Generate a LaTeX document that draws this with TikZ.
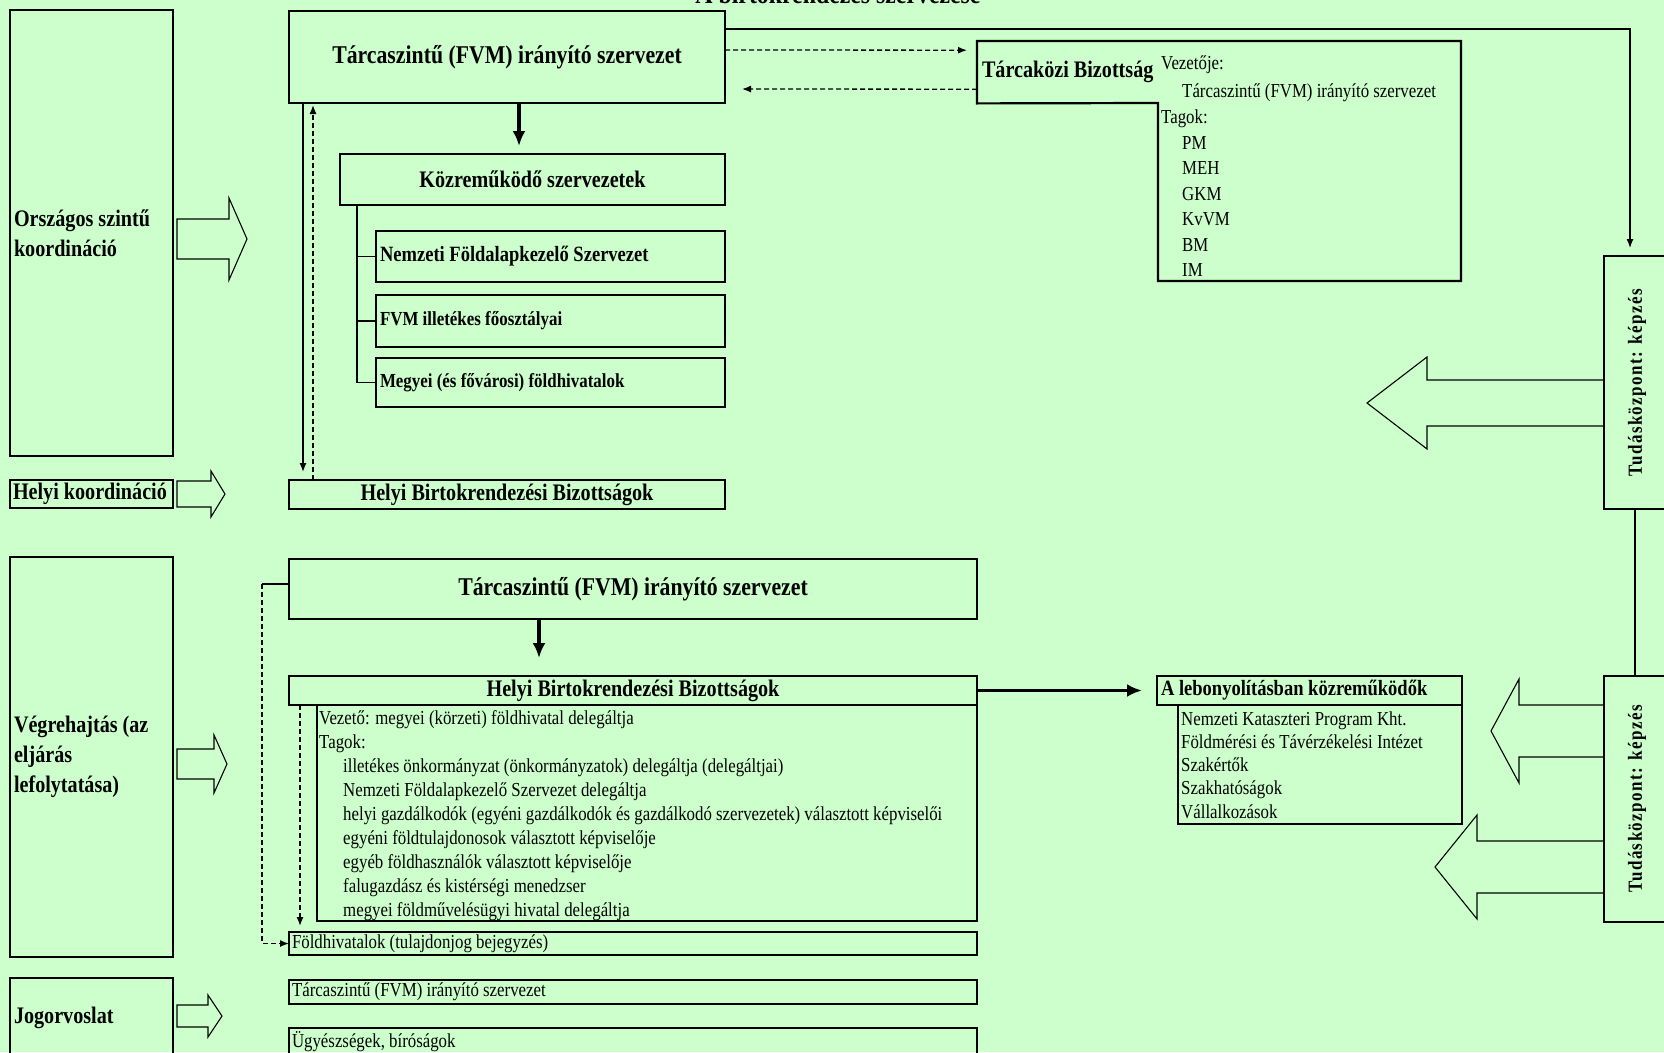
\documentclass[tikz,border=0pt]{standalone}
\usepackage{fontspec}
\setmainfont{Liberation Serif}[FakeStretch=0.85]
\newfontfamily\spacedfont{Liberation Serif}[FakeStretch=0.85, LetterSpace=7]
\usetikzlibrary{positioning, arrows.meta}
\definecolor{paleGreen}{RGB}{204,255,204}

\begin{document}
\begin{tikzpicture}[
    x=1pt, y=-1pt,
    box/.style={draw, line width=2.6pt, inner sep=0pt, outer sep=0pt, anchor=north west},
    textbox/.style={box, align=flush left, inner xsep=4pt},
    titlefont/.style={font=\bfseries\fontsize{25.6}{30}\selectfont},
    headfont/.style={font=\bfseries\fontsize{23.7}{30}\selectfont},
    subfont/.style={font=\bfseries\fontsize{19.9}{24}\selectfont},
    listfont/.style={font=\fontsize{19.8}{24}\selectfont},
    rotfont/.style={font=\spacedfont\bfseries\fontsize{20}{24}\selectfont},
    thinline/.style={line width=1.3pt},
    dashline/.style={thinline, dash pattern=on 5pt off 3pt},
    smallhead/.style={-{Latex[length=9pt,width=7pt]}},
    bighead/.style={line width=3.5pt, -{Latex[length=15pt,width=13pt]}},
    hollowarrow/.style={draw, line width=1.1pt, line join=miter}
]
    \fill[paleGreen] (0,0) rectangle (1664,1052);
    \useasboundingbox (0,0) rectangle (1664,1052);

    % Title (cut off at the top)
    \node[font=\bfseries\fontsize{28}{30}\selectfont, anchor=base, inner sep=0pt] (title) at (838,3) {A birtokrendezés szervezése};

    % Left column
    \node[textbox, headfont, text width=155pt, minimum height=446pt] (orszagos) at (10,10) {Országos szintű\\koordináció};
    \node[textbox, headfont, text width=157pt, inner xsep=3pt, minimum height=28pt] (helyi_koord) at (10,480) {Helyi koordináció};
    \node[textbox, headfont, text width=155pt, minimum height=400pt] (vegrehajtas) at (10,557) {Végrehajtás (az\\eljárás\\lefolytatása)};
    \node[textbox, headfont, text width=155pt, minimum height=80pt] (jogorvoslat) at (10,978) {Jogorvoslat};

    % Block arrows
    \foreach \xa/\xb/\xc/\ym/\sh/\hh in {177/229/247/239/20/41, 177/211/225/494/13/23, 177/214/227/764/15/29, 177/208/222/1016/11/21, 1604/1427/1367/403/23/46, 1604/1519/1491/731/26/52, 1604/1477/1435/867/26/52}
        \draw[hollowarrow] (\xa,\ym-\sh) -- (\xb,\ym-\sh) -- (\xb,\ym-\hh) -- (\xc,\ym) -- (\xb,\ym+\hh) -- (\xb,\ym+\sh) -- (\xa,\ym+\sh) -- cycle;

    % National level
    \node[box, titlefont, minimum width=436pt, minimum height=92pt] (tarca_top) at (289,11) {Tárcaszintű (FVM) irányító szervezet};
    \node[box, headfont, minimum width=385pt, minimum height=51pt] (kozrem) at (340,154) {Közreműködő szervezetek};
    \node[textbox, font=\bfseries\fontsize{21.8}{26}\selectfont, text width=341pt, minimum height=51pt] (nfsz) at (376,231) {Nemzeti Földalapkezelő Szervezet};
    \node[textbox, subfont, text width=341pt, minimum height=52pt, below=13pt of nfsz] (fvm_fo) {FVM illetékes főosztályai};
    \node[textbox, subfont, text width=341pt, minimum height=49pt, below=11pt of fvm_fo] (megyei_fh) {Megyei (és fővárosi) földhivatalok};
    \node[box, headfont, minimum width=436pt, minimum height=29pt] (hbb_top) at (289,480) {Helyi Birtokrendezési Bizottságok};

    % Tarcakozi Bizottsag
    \node[headfont, inner sep=0pt, anchor=north west, minimum width=181pt, minimum height=62pt] (tarcakozi) at (977,41) {Tárcaközi Bizottság};
    \draw[line width=2.2pt] (tarcakozi.north west) -- (1461,41) -- (1461,281) -- (1158,281) -- (1158,103) -- (tarcakozi.south west) -- cycle;
    \foreach \dx/\yb/\txt [count=\i] in {0/69/Vezetője:, 21/97/Tárcaszintű (FVM) irányító szervezet, 0/123/Tagok:, 21/149/PM, 21/174.5/MEH, 21/200/GKM, 21/225.5/KvVM, 21/251/BM, 21/276/IM}
        \node[listfont, anchor=base west, inner sep=0pt] (tk_line\i) at (1161+\dx,\yb) {\txt};

    % Tudaskozpont
    \node[box, minimum width=80pt, minimum height=253pt] (tudas_top) at (1604,256) {};
    \node[rotfont, rotate=90] (tudas_top_label) at (1637,383) {Tudásközpont: képzés};
    \node[box, minimum width=80pt, minimum height=246pt] (tudas_bot) at (1604,676) {};
    \node[rotfont, rotate=90] (tudas_bot_label) at (1637,799) {Tudásközpont: képzés};

    % Execution
    \node[box, titlefont, minimum width=688pt, minimum height=60pt] (tarca_mid) at (289,559) {Tárcaszintű (FVM) irányító szervezet};
    \node[box, headfont, minimum width=688pt, minimum height=29pt] (hbb_head) at (289,676) {Helyi Birtokrendezési Bizottságok};
    \node[box, minimum width=660pt, minimum height=216pt] (hbb_body) at (317,705) {};
    \foreach \dx/\txt [count=\i from 0] in {0/Vezető: megyei (körzeti) földhivatal delegáltja, 0/Tagok:, 24/illetékes önkormányzat (önkormányzatok) delegáltja (delegáltjai), 24/Nemzeti Földalapkezelő Szervezet delegáltja, 24/helyi gazdálkodók (egyéni gazdálkodók és gazdálkodó szervezetek) választott képviselői, 24/egyéni földtulajdonosok választott képviselője, 24/egyéb földhasználók választott képviselője, 24/falugazdász és kistérségi menedzser, 24/megyei földművelésügyi hivatal delegáltja}
        \node[listfont, anchor=base west, inner sep=0pt] (hbb_line\i) at (319+\dx,724.5+24*\i) {\txt};

    \node[box, line width=2.2pt, font=\bfseries\fontsize{21.8}{26}\selectfont, minimum height=29pt, text width=297pt, align=flush left, inner xsep=4pt] (lebony_head) at (1157,676) {A lebonyolításban közreműködők};
    \node[box, line width=2.2pt, minimum width=284pt, minimum height=119pt] (lebony_body) at (1178,705) {};
    \foreach \txt [count=\i from 0] in {Nemzeti Kataszteri Program Kht., Földmérési és Távérzékelési Intézet, Szakértők, Szakhatóságok, Vállalkozások}
        \node[listfont, anchor=base west, inner sep=0pt] (lb_line\i) at (1181,725+23.3*\i) {\txt};

    \node[textbox, listfont, text width=682pt, inner xsep=3pt, minimum height=23pt] (foldhiv) at (289,932) {Földhivatalok (tulajdonjog bejegyzés)};

    % Legal remedy
    \node[textbox, listfont, text width=682pt, inner xsep=3pt, minimum height=24pt] (tarca_jog) at (289,980) {Tárcaszintű (FVM) irányító szervezet};
    \node[textbox, listfont, text width=682pt, inner xsep=3pt, minimum height=27pt] (ugyesz) at (289,1028) {Ügyészségek, bíróságok};

    % Connections
    \draw[bighead, shorten >=8pt] ([xshift=12pt]tarca_top.south) -- ([xshift=-13.5pt]kozrem.north);
    \foreach \n in {nfsz, fvm_fo, megyei_fh}
        \draw[thinline] ([xshift=17pt]kozrem.south west) |- (\n.west);
    \draw[thinline, smallhead, shorten >=8pt] ([xshift=14pt]tarca_top.south west) -- ([xshift=14pt]hbb_top.north west);
    \draw[dashline, smallhead, shorten >=2pt] ([xshift=24pt]hbb_top.north west) -- ([xshift=24pt]tarca_top.south west);
    \draw[dashline, smallhead, shorten >=10pt] ([yshift=7pt]tarca_top.east) -- ([yshift=22pt]tarcakozi.west);
    \draw[dashline, smallhead, shorten >=17pt] ([yshift=-17pt]tarcakozi.west) -- ([yshift=-32pt]tarca_top.east);
    \draw[thinline, smallhead, shorten >=8pt] ([yshift=28pt]tarca_top.east) -| ([xshift=-14pt]tudas_top.north);
    \draw[thinline] ([xshift=-9pt]tudas_top.south) -- ([xshift=-9pt]tudas_bot.north);

    \draw[bighead, shorten >=18pt] ([xshift=-94pt]tarca_mid.south) -- ([xshift=-94pt]hbb_head.north);
    \draw[bighead, shorten >=15pt] (hbb_head.east) -- (lebony_head.west);
    \coordinate (fh_corner) at ([xshift=-27pt,yshift=5pt]tarca_mid.west);
    \draw[thinline] ([yshift=5pt]tarca_mid.west) -- (fh_corner);
    \draw[dashline, smallhead] (fh_corner) |- (foldhiv.west);
    \draw[dashline, smallhead, shorten >=6pt] ([xshift=11pt]hbb_head.south west) -- ([xshift=11pt]foldhiv.north west);
\end{tikzpicture}
\end{document}
